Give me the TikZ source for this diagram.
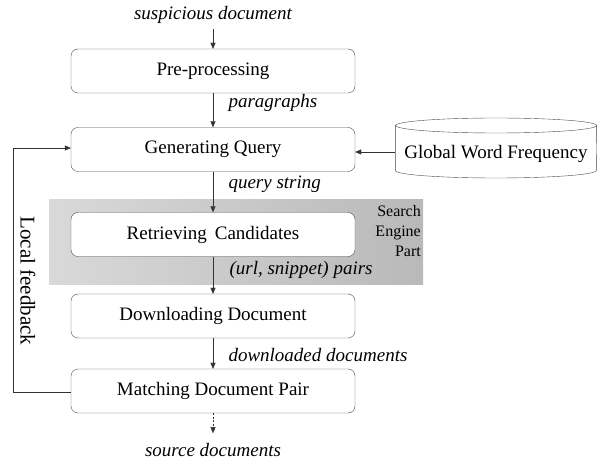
\documentclass[tikz,border=0pt]{standalone}
\usepackage{fontspec}
\setmainfont{Liberation Serif}
\usetikzlibrary{arrows.meta}
\begin{document}
\begin{tikzpicture}[x=1pt,y=-1pt,
  proc/.style={draw=black!70,rounded corners=7pt,minimum width=284pt,minimum height=44pt,font=\fontsize{19}{22}\selectfont,fill=white},
  lbl/.style={font=\fontsize{19}{22}\selectfont\itshape,anchor=west},
  arr/.style={-{Triangle[width=5pt,length=6pt]},draw=black!80},
]
\useasboundingbox (0,0) rectangle (600,462);
\fill[left color=gray!30,right color=gray!55] (49,200) rectangle (423,285);
\node[font=\fontsize{16}{20}\selectfont,align=right,anchor=north east,inner sep=0pt] (sep) at (421,205) {Search\\Engine\\Part};

\node[font=\fontsize{19}{22}\selectfont\itshape] (in) at (213,15) {suspicious document};
\node[proc] (pre) at (213,71) {Pre-processing};
\node[proc] (gq) at (213,149.5) {Generating Query};
\node[proc] (rc) at (213,234.5) {Retrieving\, Candidates};
\node[proc] (dd) at (213,316) {Downloading Document};
\node[proc] (mp) at (213,391) {Matching Document Pair};
\node[font=\fontsize{19}{22}\selectfont\itshape] (out) at (213,450) {source documents};

\node[minimum width=201pt,minimum height=60pt,inner sep=0pt] (gw) at (496,148) {};
\draw[draw=black!70,fill=white] (gw.west |- 0,125.5) -- (gw.west |- 0,170.5) arc[start angle=180,end angle=360,x radius=100.5pt,y radius=7.5pt] -- (gw.east |- 0,125.5) arc[start angle=0,end angle=360,x radius=100.5pt,y radius=7.5pt];
\node[font=\fontsize{19}{22}\selectfont] at (496,154) {Global Word Frequency};

\draw[arr] (in.south) ++(0,2) -- (pre.north);
\draw[arr] (pre) -- (gq) node[lbl,pos=0.3,xshift=12pt] {paragraphs};
\draw[arr] (gq) -- (rc) node[lbl,pos=0.3,xshift=12pt] {query string};
\draw[arr] (rc) -- (dd) node[lbl,pos=0.35,xshift=13pt] {(url, snippet) pairs};
\draw[arr] (dd) -- (mp) node[lbl,pos=0.55,xshift=12pt] {downloaded documents};
\draw[arr,dash pattern=on 2pt off 1.5pt] (mp.south) -- ++(0,20) coordinate (oe);
\draw[arr] (gw.west |- 0,152) -- (gq.east |- 0,152);
\coordinate (fb1) at (13,392);
\coordinate (fb2) at (13,148);
\draw[arr] (mp.west |- fb1) -- (fb1) -- (fb2) -- (gq.west |- fb2);
\node[rotate=-90,font=\fontsize{21}{24}\selectfont] (lf) at (28,281) {Local feedback};
\end{tikzpicture}
\end{document}
